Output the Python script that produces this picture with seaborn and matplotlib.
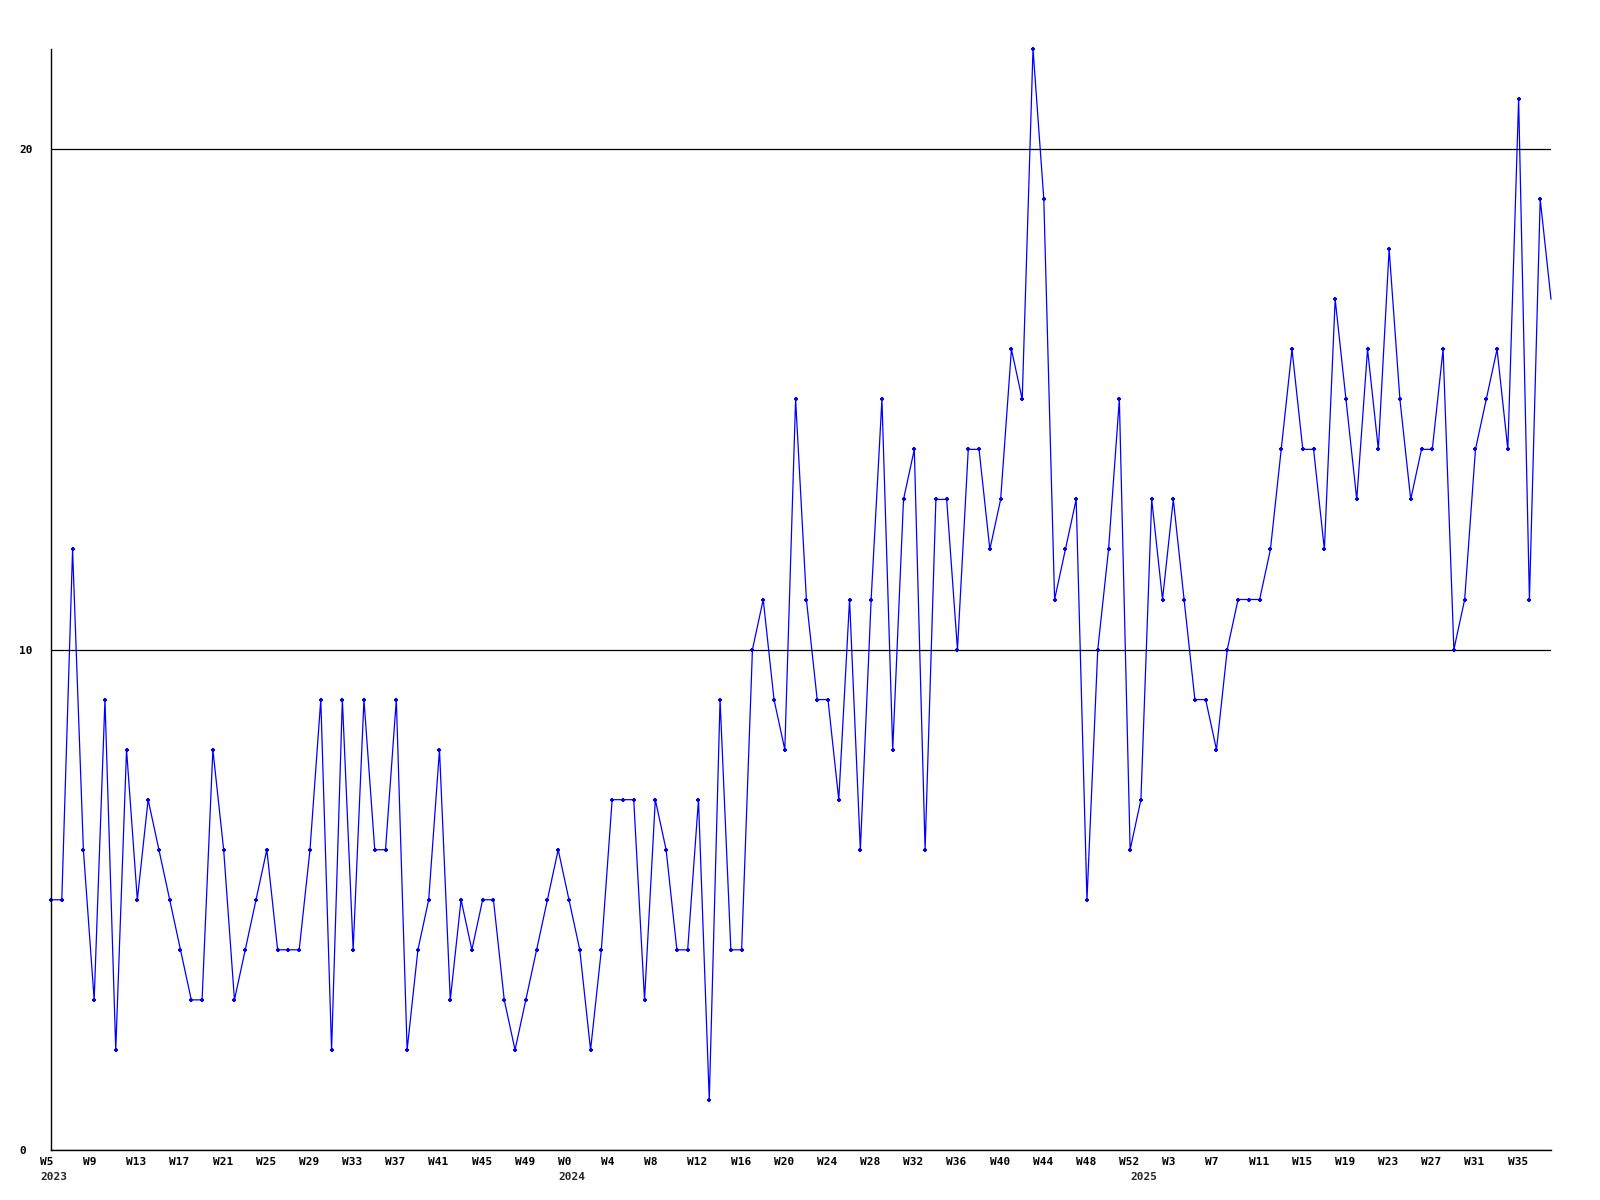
import matplotlib
matplotlib.use("Agg")
import matplotlib.pyplot as plt
import matplotlib.transforms as mtransforms
import seaborn as sns
import pandas as pd

# weekly counts, 2023 W5 .. 2025 W38
counts = [
    5, 5, 12, 6, 3, 9, 2, 8, 5, 7, 6, 5, 4, 3, 3, 8, 6, 3, 4, 5,
    6, 4, 4, 4, 6, 9, 2, 9, 4, 9, 6, 6, 9, 2, 4, 5, 8, 3, 5, 4,
    5, 5, 3, 2, 3, 4, 5, 6, 5, 4, 2, 4, 7, 7, 7, 3, 7, 6, 4, 4,
    7, 1, 9, 4, 4, 10, 11, 9, 8, 15, 11, 9, 9, 7, 11, 6, 11, 15, 8, 13,
    14, 6, 13, 13, 10, 14, 14, 12, 13, 16, 15, 22, 19, 11, 12, 13, 5, 10, 12, 15,
    6, 7, 13, 11, 13, 11, 9, 9, 8, 10, 11, 11, 11, 12, 14, 16, 14, 14, 12, 17,
    15, 13, 16, 14, 18, 15, 13, 14, 14, 16, 10, 11, 14, 15, 16, 14, 21, 11, 19, 17,
]

# week numbering as shown on the axis
years = [2023] * 48 + [2024] * 53 + [2025] * 39
weeks = list(range(5, 53)) + list(range(0, 53)) + list(range(0, 39))

df = pd.DataFrame({"idx": range(len(counts)), "count": counts,
                   "year": years, "week": weeks})

sns.set_style("white")
plt.rcParams["font.family"] = ["DejaVu Sans Mono", "DejaVu Sans"]

fig = plt.figure(figsize=(16, 12), dpi=100)
ax = fig.add_axes([51 / 1600, 1 - 1150 / 1200, 1500 / 1600, 1101 / 1200])

# the last (current) week is drawn without a marker
sns.lineplot(data=df, x="idx", y="count", ax=ax, color="#0000ff",
             linewidth=0.9, marker="+", markersize=3.5, markeredgewidth=1.5,
             markeredgecolor="#0000ff", markevery=list(range(len(counts) - 1)),
             clip_on=False)

ax.set_xlim(0, len(counts) - 1)
ax.set_ylim(0, 22)
ax.set_xlabel("")
ax.set_ylabel("")

for s in ["top", "right"]:
    ax.spines[s].set_visible(False)
for s in ["left", "bottom"]:
    ax.spines[s].set_color("black")
    ax.spines[s].set_linewidth(1.0)

ax.set_yticks([0, 10, 20])
ax.yaxis.grid(True, color="black", linewidth=0.9)
ax.xaxis.grid(False)
ax.tick_params(axis="y", length=0, pad=23, labelsize=8, colors="black")
for lbl in ax.get_yticklabels():
    lbl.set_horizontalalignment("left")
    lbl.set_fontweight("bold")

tick_idx = list(range(0, len(counts), 4))
ax.set_xticks(tick_idx)
ax.set_xticklabels([f"W{df['week'][i]}" for i in tick_idx],
                   fontsize=8, fontweight="bold")
ax.tick_params(axis="x", length=0, pad=5, colors="black")

offset = mtransforms.ScaledTranslation(-11 / 100, 0, fig.dpi_scale_trans)
for lbl in ax.get_xticklabels():
    lbl.set_horizontalalignment("left")
    lbl.set_transform(lbl.get_transform() + offset)

# year captions under the first week of each year
first_of_year = df.groupby("year")["idx"].min()
for yr, i in first_of_year.items():
    ax.text(i, -0.0245, str(yr), transform=ax.get_xaxis_transform() + offset,
            ha="left", va="center", fontsize=8, fontweight="bold")

fig.savefig("out.png", dpi=100)
